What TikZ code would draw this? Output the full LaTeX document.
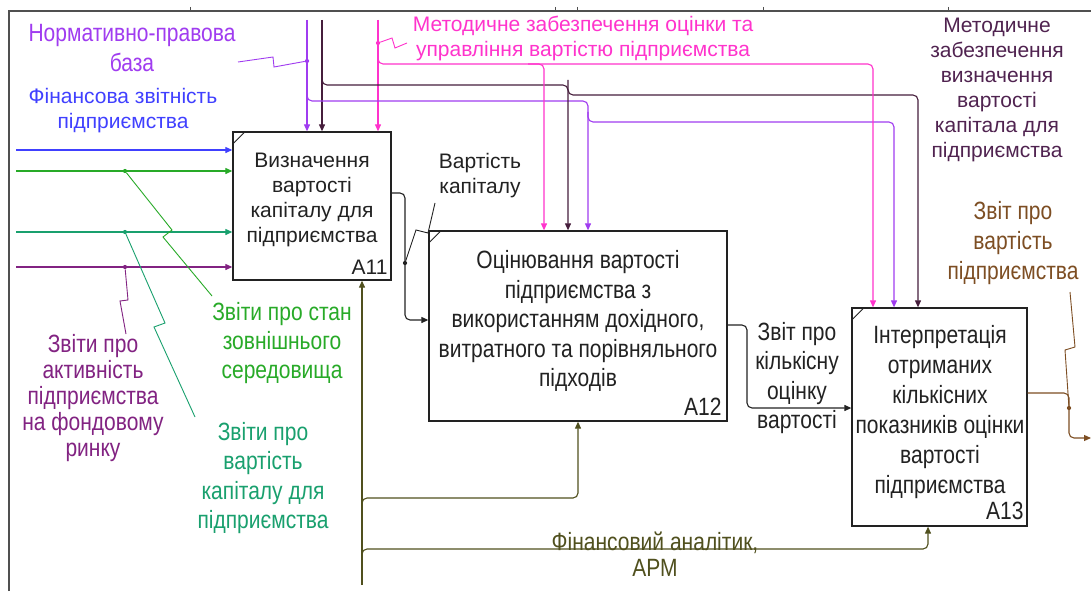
\documentclass[tikz,border=0pt]{standalone}
\usepackage{fontspec}
\setmainfont{Liberation Sans}
\newfontfamily\fB[FakeStretch=0.84]{Liberation Sans}
\usetikzlibrary{arrows.meta}
\definecolor{cviolet}{RGB}{160,60,240}
\definecolor{cblue}{RGB}{64,64,255}
\definecolor{cplum}{RGB}{70,30,60}
\definecolor{cplumtext}{RGB}{80,35,80}
\definecolor{cmag}{RGB}{255,51,204}
\definecolor{cgreen}{RGB}{40,170,40}
\definecolor{cteal}{RGB}{25,160,110}
\definecolor{cpurple}{RGB}{130,35,130}
\definecolor{colive}{RGB}{80,80,30}
\definecolor{cbrown}{RGB}{125,78,35}
\definecolor{cframe}{RGB}{80,80,80}
\definecolor{ctext}{RGB}{34,34,34}
\begin{document}
\begin{tikzpicture}[x=1pt,y=-1pt,
  frame/.style={draw=cframe, line width=1.6pt},
  box/.style={draw=ctext, line width=1.3pt, inner sep=0pt},
  fa/.style={font=\fontsize{21}{25}\selectfont, align=center, inner sep=0pt, text=ctext},
  fbs/.style={font=\fB\fontsize{25}{#1}\selectfont, align=center, inner sep=0pt, text=ctext},
  conn/.style={line width=1.1pt, rounded corners=5pt},
  arr/.style={conn, -{Triangle[length=7pt,width=6pt]}},
  sq/.style={line width=0.9pt},
  dot/.style={circle, fill, inner sep=0pt, minimum size=4.2pt}
]
\useasboundingbox (0,0) rectangle (1091,591);
\fill[white] (0,0) rectangle (1091,591);
% frame
\draw[frame] (9,591) -- (9,11) -- (1091,11);
\foreach \x in {190,555,577,763,948} \draw[frame, line width=1pt] (\x,7) -- (\x,11);

% boxes
\node[box, minimum width=158pt, minimum height=148pt] (A11) at (312,206) {};
\node[box, minimum width=298pt, minimum height=190pt] (A12) at (578,326) {};
\node[box, minimum width=175pt, minimum height=218pt] (A13) at (939.5,417) {};
\foreach \b in {A11,A12,A13}
  \draw[line width=0.8pt, ctext] ([yshift=-13pt]\b.north west) -- ([xshift=13pt]\b.north west);

\node[fa] (t11) at (312,200) {Визначення\\вартості\\капіталу для\\підприємства};
\node[fbs=29.5] (t12) at (578,321) {Оцінювання вартості\\підприємства з\\використанням дохідного,\\витратного та порівняльного\\підходів};
\node[fbs=30] (t13) at (940,412) {Інтерпретація\\отриманих\\кількісних\\показників оцінки\\вартості\\підприємства};
\node[fa, anchor=base east] (n11) at ([xshift=-4pt,yshift=6pt]A11.south east) {A11};
\node[fbs=29.5, anchor=base east] (n12) at ([xshift=-6pt,yshift=6pt]A12.south east) {A12};
\node[fbs=29.5, anchor=base east] (n13) at ([xshift=-4pt,yshift=7pt]A13.south east) {A13};

% inputs to A11
\coordinate (iB) at (16,150);
\coordinate (iG) at (16,171);
\coordinate (iT) at (16,232);
\coordinate (iP) at (16,267);
\draw[arr, cblue] (iB) -- (iB -| A11.west);
\draw[arr, cgreen] (iG) -- (iG -| A11.west);
\draw[arr, cteal] (iT) -- (iT -| A11.west);
\draw[arr, cpurple] (iP) -- (iP -| A11.west);
\node[dot, cgreen] (dG) at (125,171) {};
\node[dot, cteal] (dT) at (125,232) {};
\node[dot, cpurple] (dP) at (125,267) {};

\node[fa, text=cblue] (lB) at (123,111) {Фінансова звітність\\підприємства};
\node[fbs=29, text=cgreen] (lG) at (282,343) {Звіти про стан\\зовнішнього\\середовища};
\node[fbs=29.5, text=cteal] (lT) at (263,478) {Звіти про\\вартість\\капіталу для\\підприємства};
\node[fbs=26, text=cpurple] (lP) at (93,398) {Звіти про\\активність\\підприємства\\на фондовому\\ринку};
\draw[sq, cgreen] (dG) -- (172,230) -- (163,237) -- (212,296);
\draw[sq, cteal] (dT) -- (165,323) -- (154,327) -- (195,417);
\draw[sq, cpurple] (dP) -- (128,300) -- (120,301) -- (126,334);

% controls
\coordinate (vT) at (307,20);
\coordinate (kT) at (322,20);
\coordinate (mT) at (378,20);
\draw[arr, cviolet] (vT) -- (vT |- A11.north);
\draw[arr, cplum] (kT) -- (kT |- A11.north);
\draw[arr, cmag] (mT) -- (mT |- A11.north);
\coordinate (v1) at (588,101);
\coordinate (v2) at (894,122);
\coordinate (k1) at (568,85);
\coordinate (k2) at (918,95);
\coordinate (m1) at (873,64);
\coordinate (m2) at (544,64);
\draw[arr, cviolet] (307,91) |- (v1) -- (v1 |- A12.north);
\draw[arr, cviolet] (588,112) |- (v2) -- (v2 |- A13.north);
\draw[arr, cplum] (322,75) |- (k1) -- (k1 |- A12.north);
\draw[arr, cplum] (568,80) |- (k2) -- (k2 |- A13.north);
\draw[arr, cmag] (378,54) |- (m1) -- (m1 |- A13.north);
\draw[arr, cmag] (528,64) -- (m2) -- (m2 |- A12.north);
\node[dot, cviolet] (dV) at (307,61) {};
\node[dot, cmag] (dM) at (378,43) {};
\draw[sq, cviolet] (238,62) -- (273,57) -- (274,67) -- (dV);
\draw[sq, cmag] (dM) -- (392,38) -- (395,48) -- (407,43);
\node[fbs=30, text=cviolet] (lV) at (132,48) {Нормативно-правова\\база};
\node[fa, text=cmag] (lM) at (583,38) {Методичне забезпечення оцінки та\\управління вартістю підприємства};
\node[fa, text=cplumtext] (lK) at (997,90) {Методичне\\забезпечення\\визначення\\вартості\\капітала для\\підприємства};

% A11 -> A12
\coordinate (o11) at (405,193);
\coordinate (i12) at (405,320);
\draw[arr, ctext] (A11.east |- o11) -- (o11) -- (i12) -- (i12 -| A12.west);
\node[dot, ctext] (dK) at (405,263) {};
\draw[sq, ctext] (435,203) -- (428,233) -- (416,230) -- (dK);
\node[fa] (lK2) at (480,176) {Вартість\\капіталу};

% A12 -> A13
\coordinate (o12) at (747,325);
\coordinate (i13) at (747,408);
\draw[arr, ctext] (A12.east |- o12) -- (o12) -- (i13) -- (i13 -| A13.west);
\node[fbs=29.5] (lQ) at (797,378) {Звіт про\\кількісну\\оцінку\\вартості};

% output of A13
\coordinate (o13) at (1069,393);
\coordinate (e13) at (1069,438);
\coordinate (end13) at (1091,438);
\draw[arr, cbrown] (A13.east |- o13) -- (o13) -- (e13) -- (end13);
\node[dot, cbrown] (dO) at (1069,408) {};
\draw[sq, cbrown] (1070,292) -- (1075,347) -- (1065,350) -- (dO);
\node[fbs=30, text=cbrown] (lO) at (1013,243) {Звіт про\\вартість\\підприємства};

% mechanism
\coordinate (mB) at (362,585);
\coordinate (b1) at (578,498);
\coordinate (b2) at (928,549);
\draw[arr, colive] (mB) -- (mB |- A11.south);
\draw[arr, colive] (362,510) |- (b1) -- (b1 |- A12.south);
\draw[arr, colive] (362,561) |- (b2) -- (b2 |- A13.south);
\node[fbs=25.5, text=colive] (lF) at (655,554) {Фінансовий аналітик,\\АРМ};
\end{tikzpicture}
\end{document}
